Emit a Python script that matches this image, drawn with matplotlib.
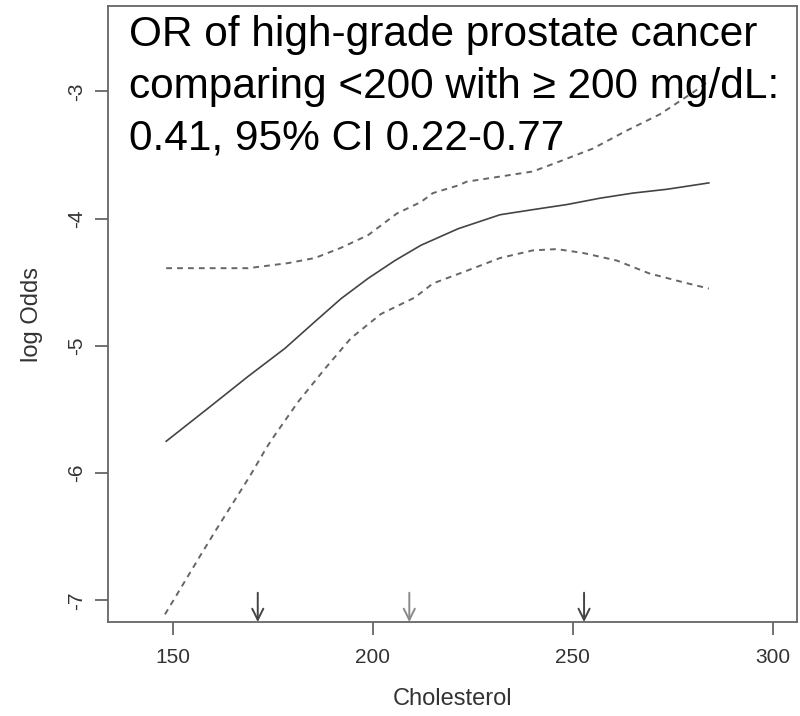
import matplotlib
matplotlib.use('Agg')
import matplotlib.pyplot as plt

plt.rcParams['font.family'] = ['Liberation Sans', 'DejaVu Sans']

# fitted log odds (solid)
chol_fit = [148.3, 158.8, 168.8, 178.0, 185.5, 192.0, 198.8, 205.5, 212.0, 221.3,
            231.8, 240.0, 248.5, 256.8, 265.0, 273.5, 284.0]
logodds_fit = [-5.75, -5.49, -5.24, -5.02, -4.81, -4.63, -4.47, -4.33, -4.21, -4.08,
               -3.97, -3.93, -3.89, -3.84, -3.80, -3.77, -3.72]

# upper 95% band (dashed)
chol_upper = [148.3, 158.8, 168.8, 178.8, 185.5, 192.0, 198.8, 206.0, 212.0, 215.0,
              221.3, 223.5, 231.8, 240.0, 246.8, 255.0, 263.4, 271.8, 280.0, 284.0]
logodds_upper = [-4.39, -4.39, -4.39, -4.35, -4.31, -4.23, -4.13, -3.96, -3.87, -3.80,
                 -3.74, -3.71, -3.67, -3.63, -3.55, -3.45, -3.31, -3.18, -3.01, -2.92]

# lower 95% band (dashed)
chol_lower = [148.0, 152.6, 156.8, 160.9, 165.1, 169.3, 173.4, 175.5, 181.3, 188.0,
              194.5, 202.0, 210.5, 215.0, 223.5, 231.8, 240.0, 246.0, 252.5, 261.0,
              269.0, 277.5, 284.0]
logodds_lower = [-7.11, -6.87, -6.65, -6.44, -6.23, -6.02, -5.80, -5.70, -5.44, -5.18,
                 -4.94, -4.75, -4.62, -4.51, -4.41, -4.31, -4.25, -4.24, -4.27, -4.33,
                 -4.43, -4.50, -4.55]

# arrows on the x axis
arrow_x = [171.2, 209.1, 252.8]
arrow_colors = ['#444444', '#8a8a8a', '#444444']

x_ticks = [150, 200, 250, 300]
y_ticks = [-7, -6, -5, -4, -3]

note = ('OR of high-grade prostate cancer\n'
        'comparing <200 with \u2265 200 mg/dL:\n'
        '0.41, 95% CI 0.22-0.77')


def main():
    fig = plt.figure(figsize=(8, 7.16), dpi=100)
    ax = fig.add_axes([0.135, 0.1313, 0.861, 0.8603])

    ax.plot(chol_fit, logodds_fit, color='#444444', lw=1.2)
    ax.plot(chol_upper, logodds_upper, color='#666666', lw=1.4, ls=(0, (3, 2.6)))
    ax.plot(chol_lower, logodds_lower, color='#666666', lw=1.4, ls=(0, (3, 2.6)))

    ymin, ymax = -7.17, -2.33
    for xa, c in zip(arrow_x, arrow_colors):
        ax.annotate('', xy=(xa, ymin), xytext=(xa, -6.94),
                    arrowprops=dict(arrowstyle='->', color=c, lw=1.4,
                                    mutation_scale=20, shrinkA=0, shrinkB=0))

    ax.set_xlim(133.75, 306)
    ax.set_ylim(ymin, ymax)
    ax.set_xticks(x_ticks)
    ax.set_yticks(y_ticks)
    ax.set_yticklabels([str(v) for v in y_ticks], rotation=90, va='center')

    for s in ax.spines.values():
        s.set_color('#666666')
        s.set_linewidth(1.3)
    ax.tick_params(axis='both', colors='#666666', labelcolor='#333333',
                   length=9.4, width=1.3, labelsize=15)
    ax.tick_params(axis='x', pad=9.5)
    ax.tick_params(axis='y', pad=6.5)

    ax.set_xlabel('Cholesterol', fontsize=17, color='#333333', labelpad=15)
    ax.set_ylabel('log Odds', fontsize=17, color='#333333', labelpad=17)

    ax.text(139.0, -2.40, note, fontsize=30.5, color='black',
            va='top', ha='left', linespacing=1.38)

    fig.savefig('out.png', dpi=100)
    plt.close(fig)


if __name__ == '__main__':
    main()
